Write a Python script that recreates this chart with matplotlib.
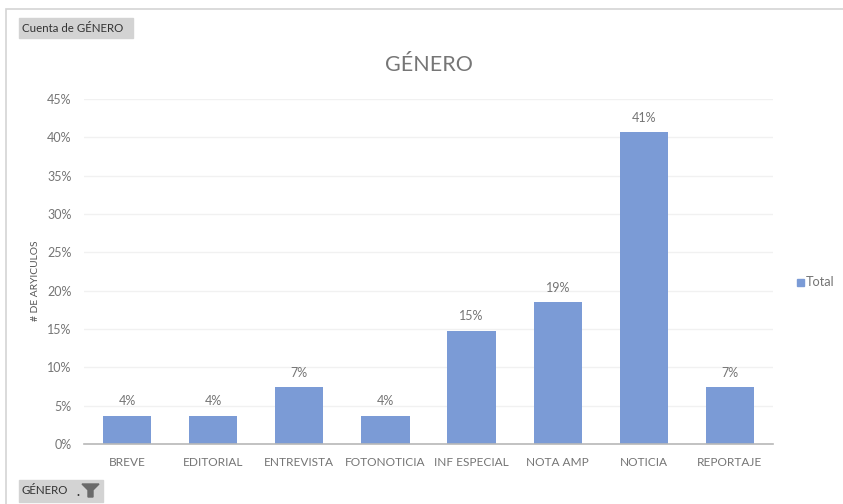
import matplotlib
matplotlib.use("Agg")
import matplotlib.pyplot as plt
from matplotlib.patches import Rectangle, Polygon
from matplotlib.ticker import PercentFormatter

generos = ["BREVE", "EDITORIAL", "ENTREVISTA", "FOTONOTICIA", "INF ESPECIAL", "NOTA AMP", "NOTICIA", "REPORTAJE"]
valores = [3.7, 3.7, 7.4, 3.7, 14.8, 18.5, 40.7, 7.4]
etiquetas = ["4%", "4%", "7%", "4%", "15%", "19%", "41%", "7%"]
ticks_y = [0, 5, 10, 15, 20, 25, 30, 35, 40, 45]

plt.rcParams["font.family"] = ["Lato", "DejaVu Sans"]

W, H = 843, 504
AZUL = "#7b9bd6"
GRIS = "#757575"


def fx(x):
    return x / W


def fy(y):
    # coordenadas de pixel desde arriba
    return 1 - y / H


fig = plt.figure(figsize=(W / 100, H / 100), dpi=100)
ax = fig.add_axes([fx(84), fy(444), (773 - 84) / W, (444 - 99) / H])

barras = ax.bar(generos, valores, width=0.56, color=AZUL, label="Total")
ax.bar_label(barras, labels=etiquetas, padding=6, fontsize=9, color=GRIS)

ax.set_xlim(-0.5, len(generos) - 0.5)
ax.set_ylim(0, 45)
ax.set_yticks(ticks_y)
ax.yaxis.set_major_formatter(PercentFormatter(decimals=0))
ax.grid(axis="y", color="#f1f1f1", linewidth=1)
ax.set_axisbelow(True)
ax.tick_params(axis="x", length=0, labelsize=8.6, labelcolor=GRIS, pad=9)
ax.tick_params(axis="y", length=0, labelsize=9, labelcolor=GRIS, pad=9)
for lado in ["top", "right", "left"]:
    ax.spines[lado].set_visible(False)
ax.spines["bottom"].set_color("#b8b8b8")
ax.spines["bottom"].set_linewidth(1.2)

fig.text(fx(36), fy(281), "# DE ARYICULOS", fontsize=7.4, color="#555555", rotation=90,
         ha="center", va="center")

fig.text(fx(429), fy(65), "GÉNERO", fontsize=15.5, color="#767676", ha="center", va="center")

# leyenda
fig.add_artist(Rectangle((fx(797), fy(286)), 7 / W, 7 / H, color=AZUL, transform=fig.transFigure))
fig.text(fx(806), fy(282), "Total", fontsize=9.2, color=GRIS, va="center")

# marco del grafico
fig.add_artist(Rectangle((fx(6), fy(520)), (W + 10) / W, (520 - 9) / H, transform=fig.transFigure,
                         fill=False, edgecolor="#d4d4d4", linewidth=1.2))

# botones de la tabla dinamica
fig.add_artist(Rectangle((fx(19), fy(38)), 114 / W, 20 / H, color="#d3d3d3", transform=fig.transFigure))
fig.text(fx(22), fy(28), "Cuenta de GÉNERO", fontsize=8.3, color="#333333", va="center")
fig.add_artist(Rectangle((fx(19), fy(502)), 84 / W, 22 / H, color="#d3d3d3", transform=fig.transFigure))
fig.text(fx(22), fy(491), "GÉNERO", fontsize=8.3, color="#333333", va="center")
fig.text(fx(76), fy(492), ".", fontsize=9, color="#333333", va="center", fontweight="bold")
fig.add_artist(Polygon([(fx(82), fy(484)), (fx(99), fy(484)), (fx(93), fy(490)), (fx(93), fy(497)),
                        (fx(88), fy(497)), (fx(88), fy(490))], closed=True, color="#6a6a6a",
                       transform=fig.transFigure))

fig.savefig("out.png", dpi=100)
